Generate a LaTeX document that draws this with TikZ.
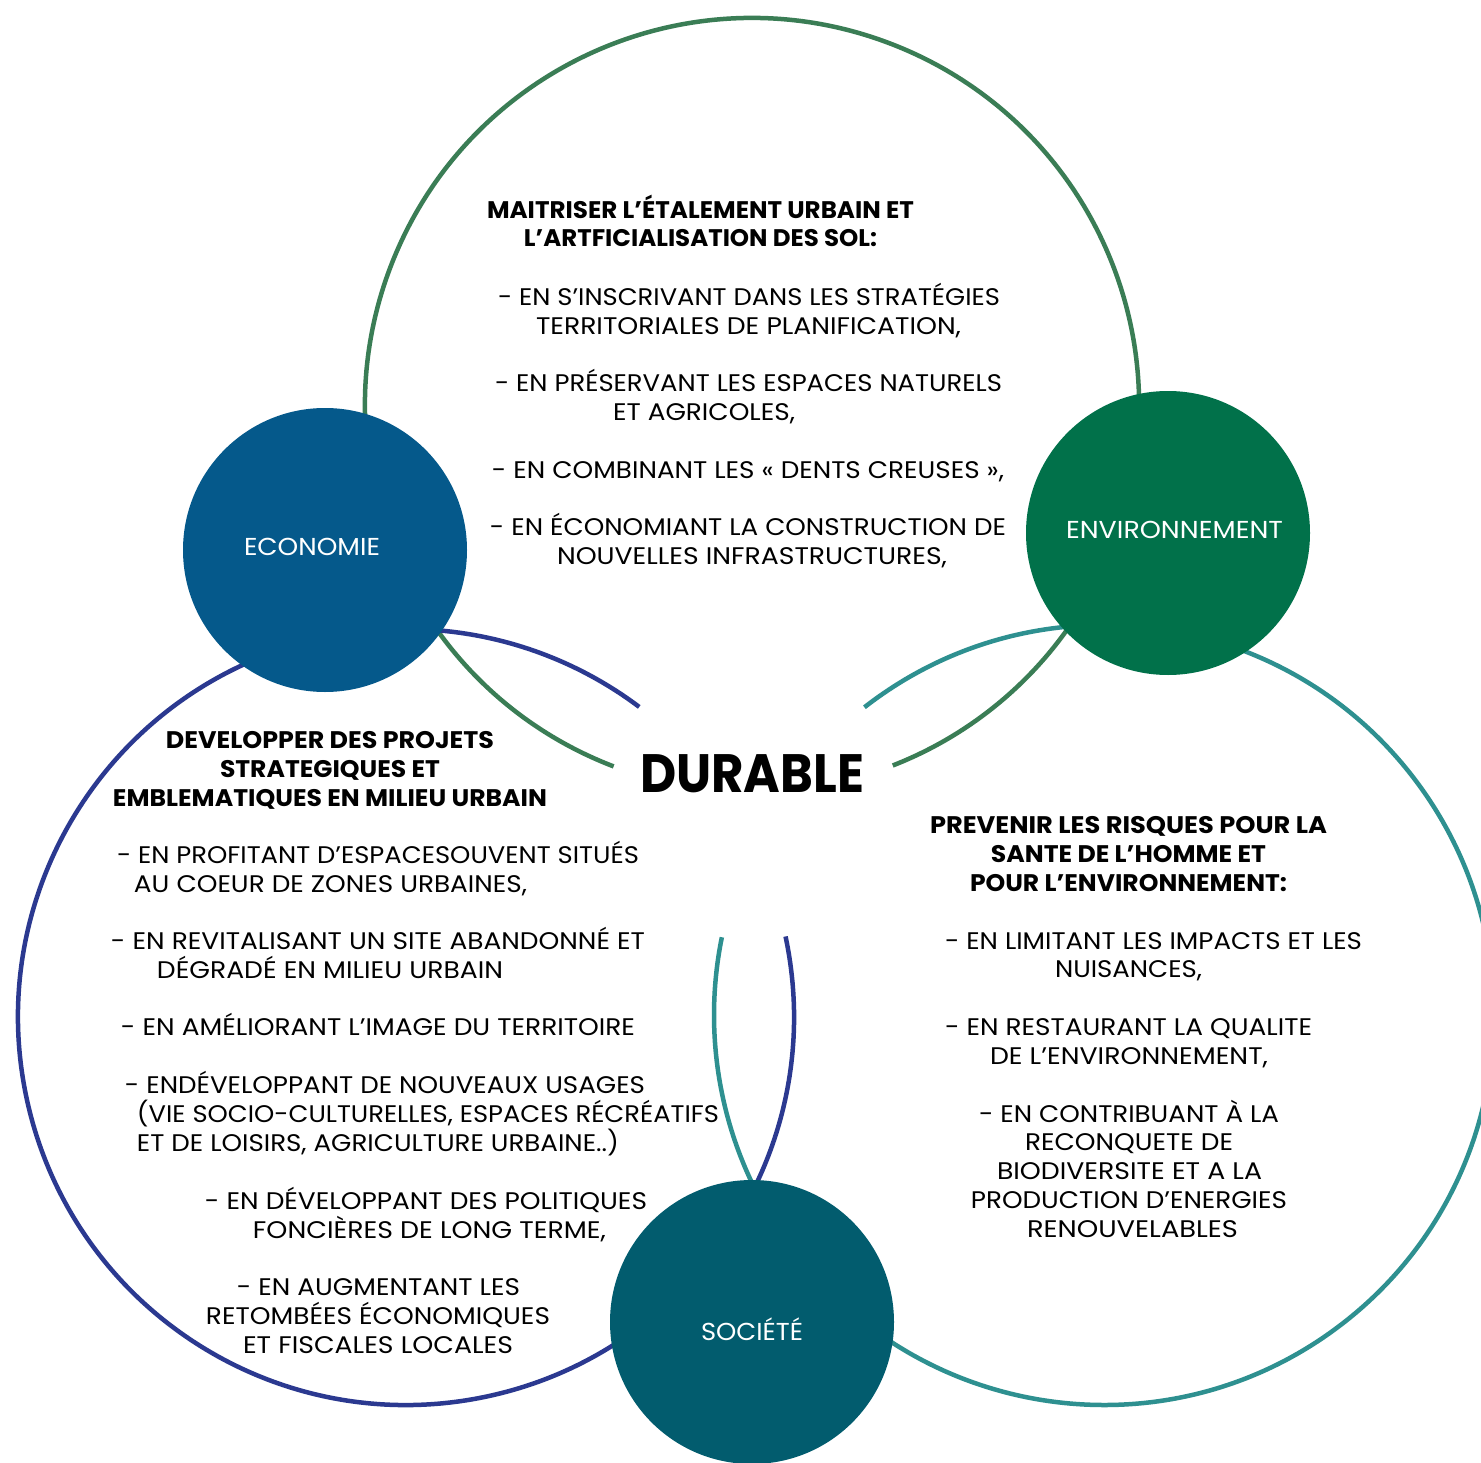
\documentclass[tikz,border=0pt]{standalone}
\usepackage{fontspec}
\setmainfont{Poppins}
\usepackage{graphicx}
\definecolor{cgreen}{RGB}{58,125,85}
\definecolor{cblue}{RGB}{43,57,144}
\definecolor{cteal}{RGB}{46,144,144}
\definecolor{feco}{RGB}{5,89,139}
\definecolor{fenv}{RGB}{1,113,74}
\definecolor{fsoc}{RGB}{2,92,110}
\newcommand{\txtline}[6]{\node[#2] (#1) at (#3,#4+8.3) {\resizebox{#5pt}{\height}{#6}};}
\begin{document}
\begin{tikzpicture}[x=1pt,y=-1pt,
  txt/.style={anchor=base,inner sep=0pt,font=\fontsize{24}{28}\selectfont},
  hd/.style={anchor=base,inner sep=0pt,font=\fontsize{24}{28}\selectfont\bfseries},
  lbl/.style={anchor=base,inner sep=0pt,text=white,font=\fontsize{24.5}{28}\selectfont},
  ring/.style={line width=4.5pt},
  disc/.style={circle,inner sep=0pt,minimum size=284pt,draw=none}]
\useasboundingbox (0,0) rectangle (1481,1463);
\fill[white] (0,0) rectangle (1481,1463);
\clip (0,0) rectangle (1481,1463);
% big rings with gaps
\draw[ring,cgreen] (752,405) ++(110.95:387) arc[start angle=110.95,end angle=428.67,radius=387];
\draw[ring,cblue] (406,1017) ++(-11.98:388) arc[start angle=-11.98,end angle=306.95,radius=388];
\draw[ring,cteal] (1104,1015) ++(232.1:390) arc[start angle=232.1,end angle=551.5,radius=390];
% filled discs
\node[disc,fill=feco] (eco) at (325,550) {};
\node[disc,fill=fenv] (env) at (1168,533) {};
\node[disc,fill=fsoc] (soc) at (752,1322) {};
\txtline{leco}{lbl}{312}{547}{136}{ECONOMIE}
\txtline{lenv}{lbl}{1174.5}{530}{217}{ENVIRONNEMENT}
\txtline{lsoc}{lbl}{752}{1332}{102}{SOCIÉTÉ}
\node[anchor=base,inner sep=0pt,font=\fontsize{54}{60}\selectfont\bfseries] (dur) at (752,792) {\resizebox{224pt}{\height}{DURABLE}};
% top block
\txtline{a1}{hd}{700.5}{210}{427}{MAITRISER L’ÉTALEMENT URBAIN ET}
\txtline{a2}{hd}{700.5}{238}{353}{L’ARTFICIALISATION DES SOL:}
\txtline{a3}{txt}{749}{297}{502}{- EN S’INSCRIVANT DANS LES STRATÉGIES}
\txtline{a4}{txt}{748.5}{326}{425}{TERRITORIALES DE PLANIFICATION,}
\txtline{a5}{txt}{748.5}{383}{507}{- EN PRÉSERVANT LES ESPACES NATURELS}
\txtline{a6}{txt}{704}{412}{182}{ET AGRICOLES,}
\txtline{a7}{txt}{748}{470}{512}{- EN COMBINANT LES « DENTS CREUSES »,}
\txtline{a8}{txt}{748}{527}{516}{- EN ÉCONOMIANT LA CONSTRUCTION DE}
\txtline{a9}{txt}{752}{556}{390}{NOUVELLES INFRASTRUCTURES,}
% left block
\txtline{b1}{hd}{330}{740}{328}{DEVELOPPER DES PROJETS}
\txtline{b2}{hd}{330}{769}{220}{STRATEGIQUES ET}
\txtline{b3}{hd}{330}{798}{434}{EMBLEMATIQUES EN MILIEU URBAIN}
\txtline{b4}{txt}{378}{855}{522}{- EN PROFITANT D’ESPACESOUVENT SITUÉS}
\txtline{b5}{txt}{330.5}{884}{393}{AU COEUR DE ZONES URBAINES,}
\txtline{b6}{txt}{378}{941}{534}{- EN REVITALISANT UN SITE ABANDONNÉ ET}
\txtline{b7}{txt}{330}{970}{346}{DÉGRADÉ EN MILIEU URBAIN}
\txtline{b8}{txt}{378}{1027}{514}{- EN AMÉLIORANT L’IMAGE DU TERRITOIRE}
\txtline{b9}{txt}{385}{1085}{520}{- ENDÉVELOPPANT DE NOUVEAUX USAGES}
\txtline{b10}{txt}{428}{1114}{582}{(VIE SOCIO-CULTURELLES, ESPACES RÉCRÉATIFS}
\txtline{b11}{txt}{378}{1143}{482}{ET DE LOISIRS, AGRICULTURE URBAINE..)}
\txtline{b12}{txt}{426}{1201}{442}{- EN DÉVELOPPANT DES POLITIQUES}
\txtline{b13}{txt}{429.5}{1230}{353}{FONCIÈRES DE LONG TERME,}
\txtline{b14}{txt}{378.5}{1287}{283}{- EN AUGMENTANT LES}
\txtline{b15}{txt}{378}{1316}{344}{RETOMBÉES ÉCONOMIQUES}
\txtline{b16}{txt}{378}{1345}{270}{ET FISCALES LOCALES}
% right block
\txtline{c1}{hd}{1128.5}{825}{397}{PREVENIR LES RISQUES POUR LA}
\txtline{c2}{hd}{1128.5}{854}{275}{SANTE DE L’HOMME ET}
\txtline{c3}{hd}{1128.5}{883}{317}{POUR L’ENVIRONNEMENT:}
\txtline{c4}{txt}{1153.5}{941}{417}{- EN LIMITANT LES IMPACTS ET LES}
\txtline{c5}{txt}{1128.5}{969}{147}{NUISANCES,}
\txtline{c6}{txt}{1128.5}{1027}{367}{- EN RESTAURANT LA QUALITE}
\txtline{c7}{txt}{1129}{1056}{278}{DE L’ENVIRONNEMENT,}
\txtline{c8}{txt}{1129}{1114}{300}{- EN CONTRIBUANT À LA}
\txtline{c9}{txt}{1129}{1142}{208}{RECONQUETE DE}
\txtline{c10}{txt}{1129.5}{1171}{265}{BIODIVERSITE ET A LA}
\txtline{c11}{txt}{1129}{1200}{316}{PRODUCTION D’ENERGIES}
\txtline{c12}{txt}{1132.5}{1229}{211}{RENOUVELABLES}
\end{tikzpicture}
\end{document}
